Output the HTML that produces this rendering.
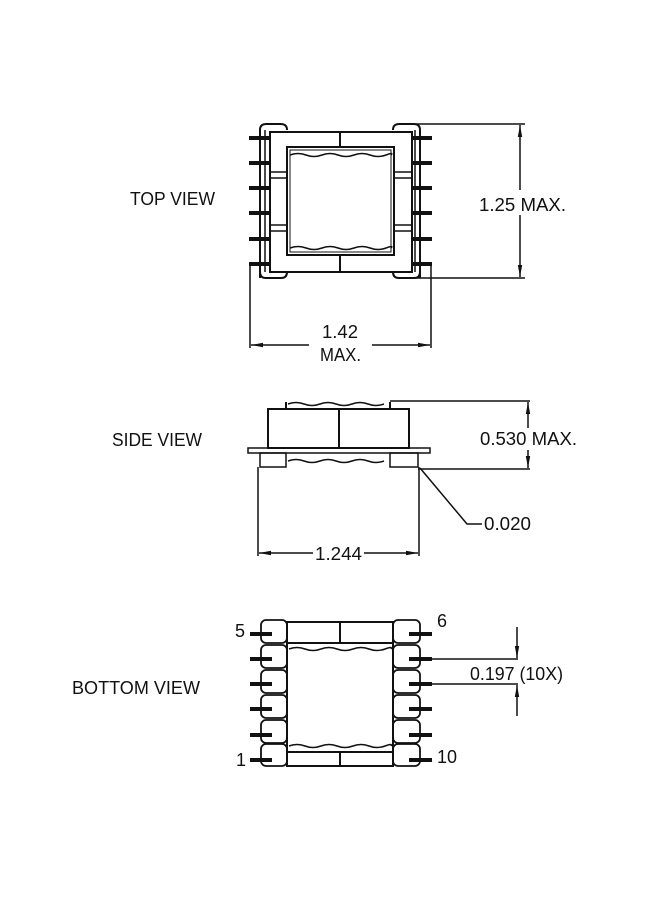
<!DOCTYPE html>
<html><head><meta charset="utf-8"><style>
html,body{margin:0;padding:0;background:#fff;}
svg{display:block;}
text{font-family:"Liberation Sans",sans-serif;font-size:18px;fill:#111;}
</style></head><body>
<svg width="650" height="900" viewBox="0 0 650 900" xmlns="http://www.w3.org/2000/svg">
<defs>
<marker id="ar" markerWidth="12" markerHeight="6" refX="12" refY="3" orient="auto" markerUnits="userSpaceOnUse"><path d="M0,0.8 L12,3 L0,5.2 z" fill="#111"/></marker>
</defs>
<g stroke="#111" fill="none" stroke-width="2">
<!-- TOP VIEW -->
<path d="M260,278 V130 Q260,124 266,124 H281 Q287,124 287,130"/>
<path d="M420,278 V130 Q420,124 414,124 H399 Q393,124 393,130"/>
<path d="M260,272 Q260,278 266,278 H281 Q287,278 287,272"/>
<path d="M420,272 Q420,278 414,278 H399 Q393,278 393,272"/>
<line x1="265" y1="130" x2="265" y2="272" stroke-width="1.5"/>
<line x1="415" y1="130" x2="415" y2="272" stroke-width="1.5"/>
<rect x="270" y="132" width="142" height="140"/>
<rect x="287" y="147" width="107" height="108"/>
<rect x="290" y="150" width="101" height="102" stroke-width="1"/>
<line x1="340" y1="132" x2="340" y2="147"/>
<line x1="340" y1="255" x2="340" y2="272"/>
<path d="M290,155 q8,-3 16,0 t16,0 t16,0 t16,0 t16,0 t16,0 t5,0" stroke-width="1.5"/>
<path d="M290,248 q8,-3 16,0 t16,0 t16,0 t16,0 t16,0 t16,0 t5,0" stroke-width="1.5"/>
<line x1="270" y1="172" x2="287" y2="172" stroke-width="1.5"/><line x1="270" y1="178" x2="287" y2="178" stroke-width="1.5"/>
<line x1="270" y1="225" x2="287" y2="225" stroke-width="1.5"/><line x1="270" y1="231" x2="287" y2="231" stroke-width="1.5"/>
<line x1="394" y1="172" x2="412" y2="172" stroke-width="1.5"/><line x1="394" y1="178" x2="412" y2="178" stroke-width="1.5"/>
<line x1="394" y1="225" x2="412" y2="225" stroke-width="1.5"/><line x1="394" y1="231" x2="412" y2="231" stroke-width="1.5"/>
<g stroke-width="4">
<line x1="249" y1="138" x2="270" y2="138"/><line x1="249" y1="163" x2="270" y2="163"/><line x1="249" y1="188" x2="270" y2="188"/>
<line x1="249" y1="213" x2="270" y2="213"/><line x1="249" y1="239" x2="270" y2="239"/><line x1="249" y1="264" x2="270" y2="264"/>
<line x1="412" y1="138" x2="432" y2="138"/><line x1="412" y1="163" x2="432" y2="163"/><line x1="412" y1="188" x2="432" y2="188"/>
<line x1="412" y1="213" x2="432" y2="213"/><line x1="412" y1="239" x2="432" y2="239"/><line x1="412" y1="264" x2="432" y2="264"/>
</g>
<!-- top dims -->
<line x1="414" y1="124" x2="525" y2="124" stroke-width="1.5"/>
<line x1="414" y1="278" x2="525" y2="278" stroke-width="1.5"/>
<line x1="520" y1="190" x2="520" y2="125" marker-end="url(#ar)" stroke-width="1.5"/>
<line x1="520" y1="215" x2="520" y2="277" marker-end="url(#ar)" stroke-width="1.5"/>
<line x1="250" y1="264" x2="250" y2="348" stroke-width="1.5"/>
<line x1="431" y1="264" x2="431" y2="348" stroke-width="1.5"/>
<line x1="309" y1="345" x2="251" y2="345" marker-end="url(#ar)" stroke-width="1.5"/>
<line x1="372" y1="345" x2="430" y2="345" marker-end="url(#ar)" stroke-width="1.5"/>
<!-- SIDE VIEW -->
<rect x="268" y="409" width="141" height="39"/>
<line x1="339" y1="409" x2="339" y2="448"/>
<line x1="286" y1="402" x2="286" y2="409"/><line x1="390" y1="402" x2="390" y2="409"/>
<path d="M288,404 q8,-3 16,0 t16,0 t16,0 t16,0 t16,0 t16,0" stroke-width="1.5"/>
<rect x="248" y="448" width="182" height="5" stroke-width="1.5"/>
<rect x="260" y="453" width="26" height="14" stroke-width="1.5"/>
<rect x="390" y="453" width="28" height="14" stroke-width="1.5"/>
<path d="M288,461 q8,-3 16,0 t16,0 t16,0 t16,0 t16,0 t16,0" stroke-width="1.5"/>
<line x1="390" y1="401" x2="530" y2="401" stroke-width="1.5"/>
<line x1="418" y1="469" x2="530" y2="469" stroke-width="1.5"/>
<line x1="528" y1="428" x2="528" y2="402" marker-end="url(#ar)" stroke-width="1.5"/>
<line x1="528" y1="450" x2="528" y2="468" marker-end="url(#ar)" stroke-width="1.5"/>
<polyline points="420,468 467,524 482,524" stroke-width="1.5"/>
<line x1="258" y1="467" x2="258" y2="556" stroke-width="1.5"/>
<line x1="419" y1="467" x2="419" y2="556" stroke-width="1.5"/>
<line x1="313" y1="553" x2="259" y2="553" marker-end="url(#ar)" stroke-width="1.5"/>
<line x1="364" y1="553" x2="418" y2="553" marker-end="url(#ar)" stroke-width="1.5"/>
<!-- BOTTOM VIEW -->
<rect x="287" y="622" width="106" height="21"/>
<rect x="287" y="752" width="106" height="14"/>
<line x1="340" y1="622" x2="340" y2="643"/><line x1="340" y1="752" x2="340" y2="766"/>
<line x1="287" y1="643" x2="287" y2="752"/><line x1="393" y1="643" x2="393" y2="752"/>
<path d="M289,649 q8,-3 16,0 t16,0 t16,0 t16,0 t16,0 t16,0 t6,0" stroke-width="1.5"/>
<path d="M289,746 q8,-3 16,0 t16,0 t16,0 t16,0 t16,0 t16,0 t6,0" stroke-width="1.5"/>
<g stroke-width="1.8">
<rect x="261" y="620" width="26" height="23" rx="5"/><rect x="261" y="645" width="26" height="23" rx="5"/>
<rect x="261" y="670" width="26" height="23" rx="5"/><rect x="261" y="695" width="26" height="23" rx="5"/>
<rect x="261" y="720" width="26" height="23" rx="5"/><rect x="261" y="744" width="26" height="22" rx="5"/>
<rect x="393" y="620" width="27" height="23" rx="5"/><rect x="393" y="645" width="27" height="23" rx="5"/>
<rect x="393" y="670" width="27" height="23" rx="5"/><rect x="393" y="695" width="27" height="23" rx="5"/>
<rect x="393" y="720" width="27" height="23" rx="5"/><rect x="393" y="744" width="27" height="22" rx="5"/>
</g>
<g stroke-width="4">
<line x1="250" y1="634" x2="272" y2="634"/><line x1="250" y1="659" x2="272" y2="659"/><line x1="250" y1="684" x2="272" y2="684"/>
<line x1="250" y1="709" x2="272" y2="709"/><line x1="250" y1="735" x2="272" y2="735"/><line x1="250" y1="760" x2="272" y2="760"/>
<line x1="409" y1="634" x2="432" y2="634"/><line x1="409" y1="659" x2="432" y2="659"/><line x1="409" y1="684" x2="432" y2="684"/>
<line x1="409" y1="709" x2="432" y2="709"/><line x1="409" y1="735" x2="432" y2="735"/><line x1="409" y1="760" x2="432" y2="760"/>
</g>
<line x1="432" y1="659" x2="518" y2="659" stroke-width="1.5"/>
<line x1="432" y1="684" x2="518" y2="684" stroke-width="1.5"/>
<line x1="517" y1="627" x2="517" y2="658" marker-end="url(#ar)" stroke-width="1.5"/>
<line x1="517" y1="716" x2="517" y2="685" marker-end="url(#ar)" stroke-width="1.5"/>
</g>
<text x="130" y="205" textLength="85" lengthAdjust="spacingAndGlyphs">TOP VIEW</text>
<text x="112" y="446" textLength="90" lengthAdjust="spacingAndGlyphs">SIDE VIEW</text>
<text x="72" y="694" textLength="128" lengthAdjust="spacingAndGlyphs">BOTTOM VIEW</text>
<text x="479" y="211" textLength="87" lengthAdjust="spacingAndGlyphs">1.25 MAX.</text>
<text x="322" y="338" textLength="36" lengthAdjust="spacingAndGlyphs">1.42</text>
<text x="320" y="361" textLength="41" lengthAdjust="spacingAndGlyphs">MAX.</text>
<text x="480" y="445" textLength="97" lengthAdjust="spacingAndGlyphs">0.530 MAX.</text>
<text x="484" y="530" textLength="47" lengthAdjust="spacingAndGlyphs">0.020</text>
<text x="315" y="560" textLength="47" lengthAdjust="spacingAndGlyphs">1.244</text>
<text x="470" y="680" textLength="93" lengthAdjust="spacingAndGlyphs">0.197 (10X)</text>
<text x="235" y="637">5</text>
<text x="437" y="627">6</text>
<text x="236" y="766">1</text>
<text x="437" y="763">10</text>
</svg>
</body></html>
